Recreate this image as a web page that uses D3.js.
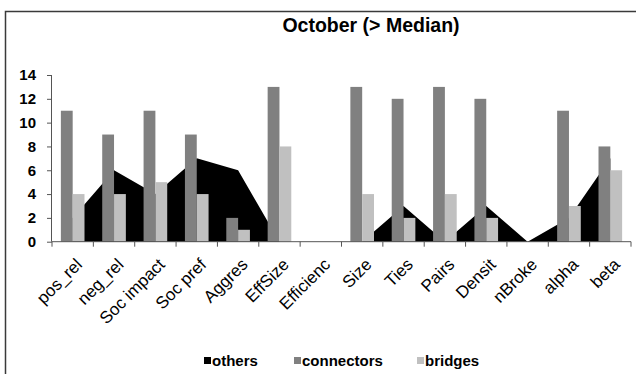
<!DOCTYPE html>
<html>
<head>
<meta charset="utf-8">
<script src="https://cdn.jsdelivr.net/npm/d3@7"></script>
<style>
  html, body { margin: 0; padding: 0; background: #fff; }
  svg { display: block; font-family: "Liberation Sans", Arial, sans-serif; }
</style>
</head>
<body>
<svg id="chart" width="636" height="374"></svg>
<script>
const categories = ["pos_rel","neg_rel","Soc impact","Soc pref","Aggres","EffSize","Efficienc","Size","Ties","Pairs","Densit","nBroke","alpha","beta"];
const others     = [2, 6, 4, 7, 6, 0, 0, 0, 3, 0, 3, 0, 2, 7];
const connectors = [11, 9, 11, 9, 2, 13, 0, 13, 12, 13, 12, 0, 11, 8];
const bridges    = [4, 4, 5, 4, 1, 8, 0, 4, 2, 4, 2, 0, 3, 6];
const yTicks     = [0, 2, 4, 6, 8, 10, 12, 14];
const seriesNames = ["others", "connectors", "bridges"];
const title = "October (> Median)";

const colors = { others: "#000000", connectors: "#808080", bridges: "#c0c0c0" };

const svg = d3.select("#chart");
const plotL = 52, plotR = 631, plotT = 75, plotB = 241.7;

// frame
svg.append("rect")
  .attr("x", 5.5).attr("y", 11.5).attr("width", 700).attr("height", 400)
  .attr("fill", "none").attr("stroke", "#3a3a3a").attr("stroke-width", 1.5);

const x = d3.scaleBand().domain(categories).range([plotL, plotR]).padding(0);
const y = d3.scaleLinear().domain([0, 14]).range([plotB, plotT]);
const x1 = d3.scaleBand().domain(["connectors", "bridges"]).range([0, x.bandwidth()])
  .paddingInner(0).paddingOuter(0.75);

// others area
const area = d3.area()
  .x((d, i) => x(categories[i]) + x.bandwidth() / 2)
  .y0(y(0))
  .y1(d => y(d));
svg.append("path").datum(others)
  .attr("d", area).attr("fill", colors.others);

// bars
const barData = [];
categories.forEach((c, i) => {
  barData.push({ cat: c, key: "connectors", v: connectors[i] });
  barData.push({ cat: c, key: "bridges", v: bridges[i] });
});
svg.append("g").selectAll("rect").data(barData).join("rect")
  .attr("x", d => x(d.cat) + x1(d.key))
  .attr("width", x1.bandwidth())
  .attr("y", d => y(d.v))
  .attr("height", d => y(0) - y(d.v))
  .attr("fill", d => colors[d.key]);

// y axis
const yAxis = svg.append("g").attr("transform", `translate(${plotL},0)`)
  .call(d3.axisLeft(y).tickValues(yTicks).tickSize(5).tickPadding(11).tickFormat(d3.format("d")));
yAxis.select(".domain").attr("stroke", "#555").attr("d", `M-0.5,${y(14)}V${y(0)}`);
yAxis.selectAll(".tick line").attr("stroke", "#555");
yAxis.selectAll(".tick text")
  .attr("font-size", 15).attr("font-weight", "bold").attr("fill", "#000")
  .attr("font-family", "'Liberation Sans', Arial, sans-serif");

// x axis line + boundary ticks
const xAxis = svg.append("g").attr("transform", `translate(0,${plotB})`);
xAxis.append("line").attr("x1", plotL).attr("x2", plotR).attr("y1", 0).attr("y2", 0)
  .attr("stroke", "#555");
const bounds = categories.map(c => x(c)).concat([x.range()[1]]);
xAxis.selectAll("line.tk").data(bounds).join("line").attr("class", "tk")
  .attr("x1", d => d).attr("x2", d => d).attr("y1", 0).attr("y2", 5)
  .attr("stroke", "#555");

// x labels
svg.append("g").selectAll("text").data(categories).join("text")
  .attr("transform", d => `translate(${x(d) + x.bandwidth() / 2 + 2},257) rotate(-45)`)
  .attr("text-anchor", "end")
  .attr("dy", "0.71em")
  .attr("font-size", 17)
  .attr("fill", "#000")
  .text(d => d);

// title
svg.append("text")
  .attr("x", 371).attr("y", 32)
  .attr("text-anchor", "middle")
  .attr("font-size", 19.5).attr("font-weight", "bold")
  .text(title);

// legend
const legendX = [204, 294, 417];
const lg = svg.append("g");
seriesNames.forEach((s, i) => {
  lg.append("rect").attr("x", legendX[i]).attr("y", 357).attr("width", 7).attr("height", 7)
    .attr("fill", colors[s]);
  lg.append("text").attr("x", legendX[i] + 8).attr("y", 366)
    .attr("font-size", 15).attr("font-weight", "bold")
    .text(s);
});
</script>
</body>
</html>
